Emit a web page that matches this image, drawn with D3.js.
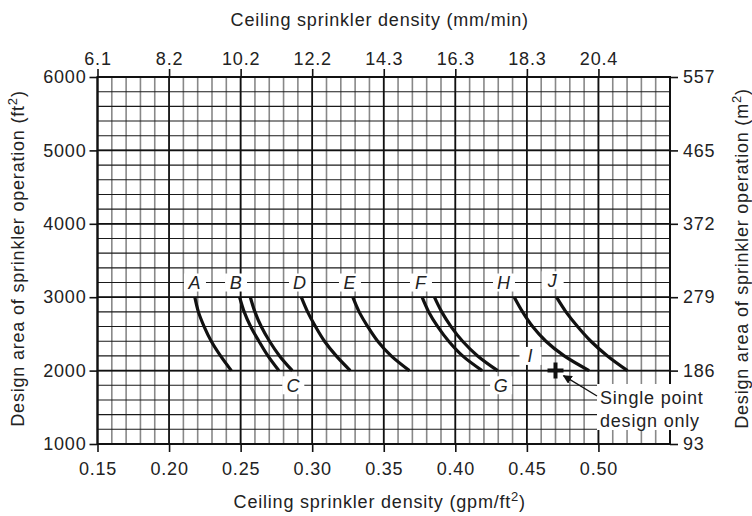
<!DOCTYPE html>
<head>
  <meta charset="utf-8">
  <title>Ceiling sprinkler density / design area curves</title>
  <script src="https://d3js.org/d3.v7.min.js"></script>
  <style>
    body { margin: 0; background: #fff; }
    text { font-family: "Liberation Sans", Arial, Helvetica, sans-serif; fill: #222; letter-spacing: 0.8px; }
  </style>
</head>
<body>
<svg width="752" height="516"></svg>

<script type="text/javascript">

// axis ticks
var densityTicks = [0.15, 0.20, 0.25, 0.30, 0.35, 0.40, 0.45, 0.50];
var mmTickLabels = ["6.1", "8.2", "10.2", "12.2", "14.3", "16.3", "18.3", "20.4"];
var areaTicks = [1000, 2000, 3000, 4000, 5000, 6000];
var m2TickLabels = ["93", "186", "279", "372", "465", "557"];

// every curve read at these design areas (ft2)
var curveAreas = [3000, 2800, 2600, 2400, 2200, 2000];
var curveA = [0.218, 0.2205, 0.2245, 0.2295, 0.236, 0.2435];
var curveB = [0.2493, 0.2525, 0.257, 0.2628, 0.2691, 0.2767];
var curveC = [0.2568, 0.2600, 0.2644, 0.2702, 0.2772, 0.2861];
var curveD = [0.2924, 0.2968, 0.3023, 0.3086, 0.3168, 0.3266];
var curveE = [0.3284, 0.3328, 0.3388, 0.3458, 0.3552, 0.3679];
var curveF = [0.3768, 0.3814, 0.3877, 0.3954, 0.4051, 0.4187];
var curveG = [0.3854, 0.3905, 0.397, 0.4051, 0.4156, 0.4296];
var curveH = [0.4412, 0.447, 0.454, 0.4633, 0.4761, 0.4935];
var curveJ = [0.4707, 0.4773, 0.4854, 0.4947, 0.5063, 0.5203];
var curves = [curveA, curveB, curveC, curveD, curveE, curveF, curveG, curveH, curveJ];

// curve I is a single point
var singlePoint = { density: 0.47, area: 2000 };

// letter labels, placed on the grid in data units
var curveLabels = [
  { name: "A", density: 0.2181, area: 3200 },
  { name: "B", density: 0.2468, area: 3200 },
  { name: "C", density: 0.2868, area: 1800 },
  { name: "D", density: 0.2915, area: 3200 },
  { name: "E", density: 0.3264, area: 3200 },
  { name: "F", density: 0.376, area: 3200 },
  { name: "G", density: 0.432, area: 1800 },
  { name: "H", density: 0.434, area: 3200 },
  { name: "I", density: 0.4525, area: 2200 },
  { name: "J", density: 0.468, area: 3230 }
];

var svg = d3.select("svg");
var mLeft = 97.5, mRight = 670, mTop = 77, mBottom = 444;

var x = d3.scaleLinear().domain([0.15, 0.55]).range([mLeft, mRight]);
var y = d3.scaleLinear().domain([1000, 6000]).range([mBottom, mTop]);

// grid: minor first, then major on top
var minorX = d3.range(0.15, 0.5501, 0.01).map(function(d) { return +d.toFixed(2); });
var minorY = d3.range(1000, 6001, 200);

var grid = svg.append("g");
grid.selectAll(".vminor")
  .data(minorX)
  .enter().append("line")
    .attr("x1", function(d) { return x(d); })
    .attr("x2", function(d) { return x(d); })
    .attr("y1", mTop).attr("y2", mBottom)
    .attr("stroke", "#888").attr("stroke-width", 1.6);
grid.selectAll(".hminor")
  .data(minorY)
  .enter().append("line")
    .attr("y1", function(d) { return y(d); })
    .attr("y2", function(d) { return y(d); })
    .attr("x1", mLeft).attr("x2", mRight)
    .attr("stroke", "#1a1a1a").attr("stroke-width", 1.1);
grid.selectAll(".vmajor")
  .data(densityTicks)
  .enter().append("line")
    .attr("x1", function(d) { return x(d); })
    .attr("x2", function(d) { return x(d); })
    .attr("y1", mTop).attr("y2", mBottom)
    .attr("stroke", "#111").attr("stroke-width", 1.7);
grid.selectAll(".hmajor")
  .data(areaTicks)
  .enter().append("line")
    .attr("y1", function(d) { return y(d); })
    .attr("y2", function(d) { return y(d); })
    .attr("x1", mLeft).attr("x2", mRight)
    .attr("stroke", "#111").attr("stroke-width", 1.8);

// frame
svg.append("rect")
  .attr("x", mLeft).attr("y", mTop)
  .attr("width", mRight - mLeft).attr("height", mBottom - mTop)
  .attr("fill", "none").attr("stroke", "#111").attr("stroke-width", 2);

// axes
var bottomAxis = d3.axisBottom(x).tickValues(densityTicks).tickFormat(d3.format(".2f")).tickSize(8).tickPadding(10);
var topAxis = d3.axisTop(x).tickValues(densityTicks).tickFormat(function(d, i) { return mmTickLabels[i]; }).tickSize(8).tickPadding(4);
var leftAxis = d3.axisLeft(y).tickValues(areaTicks).tickFormat(d3.format("d")).tickSize(8).tickPadding(3);
var rightAxis = d3.axisRight(y).tickValues(areaTicks).tickFormat(function(d, i) { return m2TickLabels[i]; }).tickSize(8).tickPadding(5);

function styleAxis(g) {
  g.select(".domain").remove();
  g.selectAll(".tick line").attr("stroke", "#111").attr("stroke-width", 1.6);
  g.selectAll(".tick text").attr("font-size", 18).attr("fill", "#222")
    .attr("font-family", "'Liberation Sans', Arial, sans-serif");
}
svg.append("g").attr("transform", "translate(0," + mBottom + ")").call(bottomAxis).call(styleAxis);
svg.append("g").attr("transform", "translate(0," + mTop + ")").call(topAxis).call(styleAxis);
svg.append("g").attr("transform", "translate(" + mLeft + ",0)").call(leftAxis).call(styleAxis);

// curves
var line = d3.line()
  .x(function(d) { return x(d[0]); })
  .y(function(d) { return y(d[1]); })
  .curve(d3.curveCatmullRom.alpha(0.5));

svg.append("g").selectAll("path")
  .data(curves)
  .enter().append("path")
    .attr("d", function(c) { return line(c.map(function(v, i) { return [v, curveAreas[i]]; })); })
    .attr("fill", "none")
    .attr("stroke", "#111")
    .attr("stroke-width", 3.2);

// letter labels with white patches
var lab = svg.append("g").selectAll("g")
  .data(curveLabels)
  .enter().append("g")
    .attr("transform", function(d) { return "translate(" + x(d.density) + "," + y(d.area) + ")"; });
lab.append("rect")
  .attr("x", -11).attr("y", -9).attr("width", 22).attr("height", 18)
  .attr("fill", "#fff");
lab.append("text")
  .attr("text-anchor", "middle")
  .attr("dy", "0.36em")
  .attr("font-size", 18)
  .attr("font-style", "italic")
  .text(function(d) { return d.name; });

// single point design marker
var px = x(singlePoint.density), py = y(singlePoint.area);
svg.append("path")
  .attr("d", "M" + (px - 8) + "," + py + "H" + (px + 8) + "M" + px + "," + (py - 8) + "V" + (py + 8))
  .attr("stroke", "#111").attr("stroke-width", 4);

svg.append("defs").append("marker")
  .attr("id", "arrow")
  .attr("viewBox", "0 0 10 10")
  .attr("refX", 9).attr("refY", 5)
  .attr("markerWidth", 7).attr("markerHeight", 7)
  .attr("orient", "auto")
  .append("path").attr("d", "M0,0L10,5L0,10z").attr("fill", "#111");

// note box covers the grid and the right frame
svg.append("rect")
  .attr("x", 597).attr("y", 384).attr("width", 110).attr("height", 46)
  .attr("fill", "#fff");
svg.append("line")
  .attr("x1", 597).attr("y1", 396)
  .attr("x2", px + 8).attr("y2", py + 5)
  .attr("stroke", "#111").attr("stroke-width", 1.3)
  .attr("marker-end", "url(#arrow)");
var note = svg.append("text").attr("font-size", 18);
note.append("tspan").attr("x", 600).attr("y", 404).text("Single point");
note.append("tspan").attr("x", 600).attr("y", 427).text("design only");

// right axis after the note so its ticks stay visible
svg.append("g").attr("transform", "translate(" + mRight + ",0)").call(rightAxis).call(styleAxis);

// axis titles
var cx = (mLeft + mRight) / 2 - 4;
svg.append("text")
  .attr("x", cx).attr("y", 26)
  .attr("text-anchor", "middle").attr("font-size", 18)
  .text("Ceiling sprinkler density (mm/min)");

var bt = svg.append("text")
  .attr("x", cx).attr("y", 508)
  .attr("text-anchor", "middle").attr("font-size", 18);
bt.append("tspan").text("Ceiling sprinkler density (gpm/ft");
bt.append("tspan").attr("font-size", 13).attr("dy", -7).text("2");
bt.append("tspan").attr("dy", 7).text(")");

var lt = svg.append("text")
  .attr("transform", "translate(24," + (y(3500) - 2) + ") rotate(-90)")
  .attr("text-anchor", "middle").attr("font-size", 18);
lt.append("tspan").text("Design area of sprinkler operation (ft");
lt.append("tspan").attr("font-size", 13).attr("dy", -7).text("2");
lt.append("tspan").attr("dy", 7).text(")");

var rt = svg.append("text")
  .attr("transform", "translate(748," + (y(3500) - 2) + ") rotate(-90)")
  .attr("text-anchor", "middle").attr("font-size", 18);
rt.append("tspan").text("Design area of sprinkler operation (m");
rt.append("tspan").attr("font-size", 13).attr("dy", -7).text("2");
rt.append("tspan").attr("dy", 7).text(")");

</script>
</body>
</html>
